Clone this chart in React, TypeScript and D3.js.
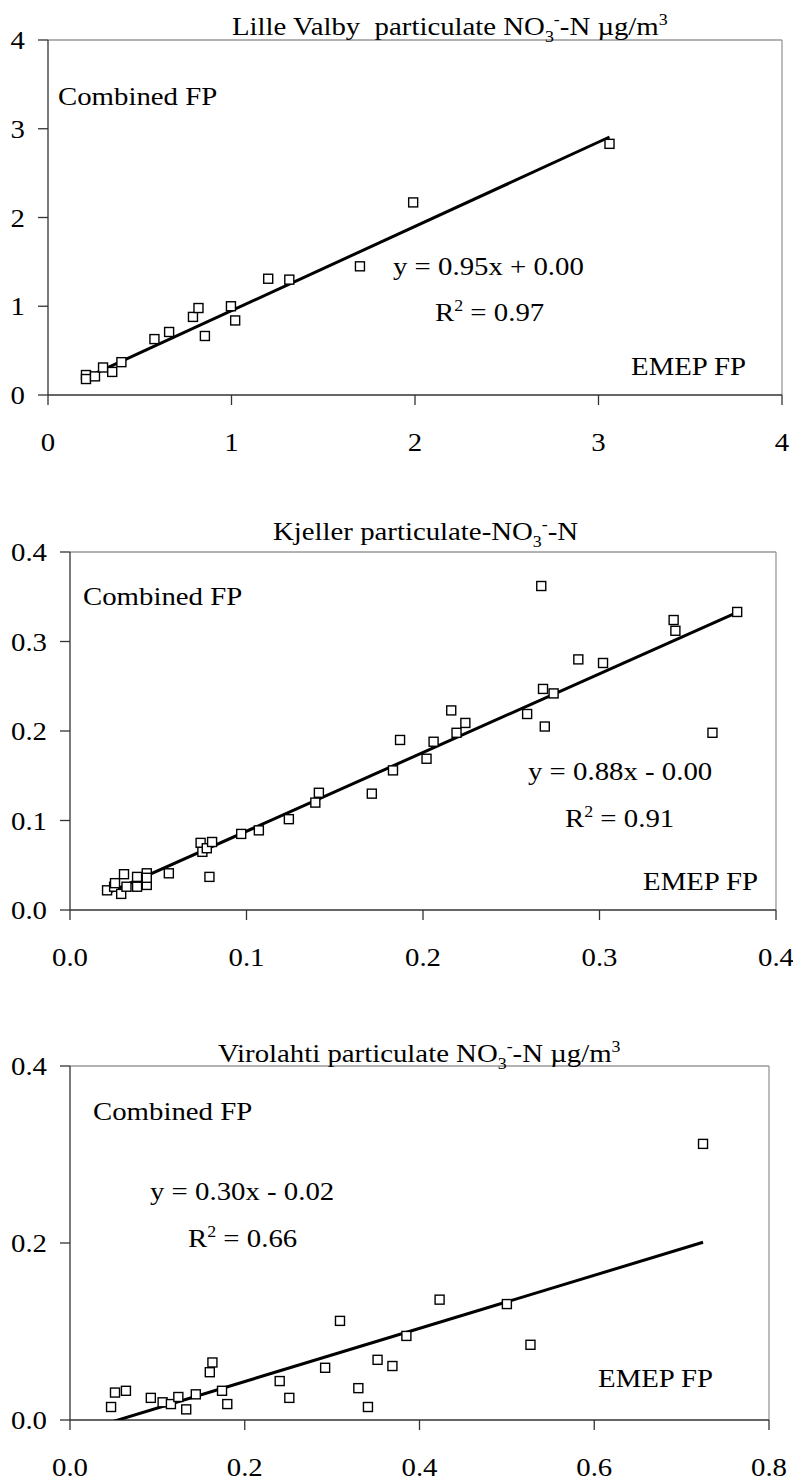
import React from "react";
import * as d3 from "d3";

// Lille Valby: EMEP FP (x) vs Combined FP (y)
const lilleX = [0.207, 0.207, 0.256, 0.3, 0.35, 0.4, 0.58, 0.66, 0.79, 0.82, 0.855, 0.997, 1.02, 1.2, 1.315, 1.7, 1.99, 3.06];
const lilleY = [0.225, 0.18, 0.21, 0.31, 0.26, 0.37, 0.63, 0.71, 0.88, 0.98, 0.665, 1.0, 0.84, 1.31, 1.3, 1.45, 2.17, 2.83];

// Kjeller
const kjellerX = [
  0.021, 0.025, 0.0255, 0.029, 0.0306, 0.032, 0.038, 0.038, 0.0435, 0.0435, 0.0435, 0.056,
  0.074, 0.075, 0.0775, 0.0805, 0.079, 0.097, 0.107, 0.124, 0.139, 0.141, 0.171, 0.183,
  0.187, 0.202, 0.206, 0.216, 0.219, 0.224, 0.259, 0.267, 0.268, 0.269, 0.274, 0.288,
  0.302, 0.342, 0.343, 0.364, 0.378,
];
const kjellerY = [
  0.022, 0.026, 0.03, 0.018, 0.04, 0.026, 0.037, 0.026, 0.041, 0.028, 0.036, 0.041,
  0.075, 0.065, 0.069, 0.076, 0.037, 0.085, 0.089, 0.1015, 0.12, 0.131, 0.13, 0.156,
  0.19, 0.169, 0.188, 0.223, 0.198, 0.209, 0.219, 0.362, 0.247, 0.205, 0.242, 0.28,
  0.276, 0.324, 0.312, 0.198, 0.333,
];

// Virolahti
const viroX = [
  0.047, 0.0515, 0.064, 0.0925, 0.106, 0.1155, 0.124, 0.133, 0.144, 0.16, 0.163, 0.174,
  0.18, 0.24, 0.251, 0.292, 0.309, 0.33, 0.341, 0.352, 0.369, 0.385, 0.423, 0.5, 0.527, 0.7245,
];
const viroY = [
  0.0147, 0.031, 0.033, 0.025, 0.02, 0.018, 0.026, 0.012, 0.029, 0.054, 0.065, 0.033,
  0.018, 0.044, 0.025, 0.059, 0.112, 0.036, 0.0147, 0.068, 0.061, 0.095, 0.136, 0.131, 0.085, 0.312,
];

const lilleTicks = [0, 1, 2, 3, 4];
const kjellerTicks = [0, 0.1, 0.2, 0.3, 0.4];
const viroXTicks = [0, 0.2, 0.4, 0.6, 0.8];
const viroYTicks = [0, 0.2, 0.4];

const FONT = "'Liberation Serif', 'Times New Roman', serif";
const FS = 25.5;
const STRETCH = 1.13; // the original text is a little wider than plain Times

type Part = { t: string; sub?: boolean; sup?: boolean };

const RichText = ({ x, y, parts, anchor = "start" }: { x: number; y: number; parts: Part[]; anchor?: string }) => {
  const out: React.ReactNode[] = [];
  let shift = 0;
  parts.forEach((p, i) => {
    const target = p.sub ? 7 : p.sup ? -10 : 0;
    const d = target - shift;
    shift = target;
    out.push(
      <tspan key={i} dy={d || undefined} fontSize={p.sub || p.sup ? FS * 0.62 : FS}>
        {p.t}
      </tspan>
    );
  });
  return (
    <g transform={`translate(${x},${y}) scale(${STRETCH},1)`}>
      <text
        x={0}
        y={0}
        textAnchor={anchor}
        fontFamily={FONT}
        fontSize={FS}
        fill="#000"
        style={{ whiteSpace: "pre" }}
      >
        {out}
      </text>
    </g>
  );
};

interface PanelProps {
  xs: number[];
  ys: number[];
  xRange: [number, number];
  yRange: [number, number];
  xDomain: [number, number];
  yDomain: [number, number];
  xTicks: number[];
  yTicks: number[];
  fmt: (v: number) => string;
  slope: number;
  intercept: number;
  title: Part[];
  titlePos: [number, number];
  combinedPos: [number, number];
  eq: string;
  eqPos: [number, number];
  r2: string;
  r2Pos: [number, number];
  emepPos: [number, number];
  id: string;
}

const Panel = (p: PanelProps) => {
  const x = d3.scaleLinear().domain(p.xDomain).range(p.xRange);
  const y = d3.scaleLinear().domain(p.yDomain).range(p.yRange);
  const [x0, x1] = p.xRange;
  const [yb, yt] = p.yRange;
  const xmin = d3.min(p.xs) as number;
  const xmax = d3.max(p.xs) as number;
  const trend = d3.line<number>()
    .x((d) => x(d))
    .y((d) => y(p.slope * d + p.intercept))([xmin, xmax]);

  return (
    <g>
      <defs>
        <clipPath id={p.id}>
          <rect x={x0} y={yt} width={x1 - x0} height={yb - yt} />
        </clipPath>
      </defs>
      {/* plot frame */}
      <line x1={x0} x2={x1} y1={yt} y2={yt} stroke="#999" strokeWidth={1.3} />
      <line x1={x1} x2={x1} y1={yt} y2={yb} stroke="#999" strokeWidth={1.3} />
      <line x1={x0} x2={x0} y1={yt} y2={yb} stroke="#333" strokeWidth={1.3} />
      <line x1={x0} x2={x1} y1={yb} y2={yb} stroke="#333" strokeWidth={1.3} />
      {p.yTicks.map((t) => (
        <g key={"y" + t}>
          <line x1={x0 - 10} x2={x0} y1={y(t)} y2={y(t)} stroke="#333" strokeWidth={1.3} />
          <RichText x={x0 - 23} y={y(t) + FS * 0.36} anchor="end" parts={[{ t: p.fmt(t) }]} />
        </g>
      ))}
      {p.xTicks.map((t) => (
        <g key={"x" + t}>
          <line x1={x(t)} x2={x(t)} y1={yb} y2={yb + 10} stroke="#333" strokeWidth={1.3} />
          <RichText x={x(t)} y={yb + 56} anchor="middle" parts={[{ t: p.fmt(t) }]} />
        </g>
      ))}
      <path d={trend ?? ""} stroke="#000" strokeWidth={3} fill="none" clipPath={`url(#${p.id})`} />
      {p.xs.map((v, i) => (
        <rect
          key={i}
          x={x(v) - 4.5}
          y={y(p.ys[i]) - 4.5}
          width={9}
          height={9}
          fill="#fff"
          stroke="#000"
          strokeWidth={1.4}
        />
      ))}
      <RichText x={p.titlePos[0]} y={p.titlePos[1]} parts={p.title} />
      <RichText x={p.combinedPos[0]} y={p.combinedPos[1]} parts={[{ t: "Combined FP" }]} />
      <RichText x={p.eqPos[0]} y={p.eqPos[1]} parts={[{ t: p.eq }]} />
      <RichText x={p.r2Pos[0]} y={p.r2Pos[1]} parts={[{ t: "R" }, { t: "2", sup: true }, { t: " = " + p.r2 }]} />
      <RichText x={p.emepPos[0]} y={p.emepPos[1]} parts={[{ t: "EMEP FP" }]} anchor="end" />
    </g>
  );
};

const f0 = d3.format("d");
const f1 = d3.format(".1f");

export default function App() {
  return (
    <svg width={793} height={1481} style={{ position: "absolute", left: 0, top: 0, background: "#fff" }}>
      <rect width={793} height={1481} fill="#fff" />
      <Panel
        id="c1"
        xs={lilleX}
        ys={lilleY}
        xRange={[48, 782]}
        yRange={[395, 40]}
        xDomain={[0, 4]}
        yDomain={[0, 4]}
        xTicks={lilleTicks}
        yTicks={lilleTicks}
        fmt={f0}
        slope={0.95}
        intercept={0.0}
        title={[
          { t: "Lille Valby  particulate NO" },
          { t: "3", sub: true },
          { t: "-", sup: true },
          { t: "-N µg/m" },
          { t: "3", sup: true },
        ]}
        titlePos={[232, 35]}
        combinedPos={[58, 105]}
        eq="y = 0.95x + 0.00"
        eqPos={[393, 275]}
        r2="0.97"
        r2Pos={[435, 321]}
        emepPos={[746, 375]}
      />
      <Panel
        id="c2"
        xs={kjellerX}
        ys={kjellerY}
        xRange={[70, 776]}
        yRange={[910, 552]}
        xDomain={[0, 0.4]}
        yDomain={[0, 0.4]}
        xTicks={kjellerTicks}
        yTicks={kjellerTicks}
        fmt={f1}
        slope={0.88}
        intercept={0.0}
        title={[{ t: "Kjeller particulate-NO" }, { t: "3", sub: true }, { t: "-", sup: true }, { t: "-N" }]}
        titlePos={[273, 540]}
        combinedPos={[83, 605]}
        eq="y = 0.88x - 0.00"
        eqPos={[528, 780]}
        r2="0.91"
        r2Pos={[565, 827]}
        emepPos={[758, 890]}
      />
      <Panel
        id="c3"
        xs={viroX}
        ys={viroY}
        xRange={[70, 769]}
        yRange={[1420, 1066]}
        xDomain={[0, 0.8]}
        yDomain={[0, 0.4]}
        xTicks={viroXTicks}
        yTicks={viroYTicks}
        fmt={f1}
        slope={0.3}
        intercept={-0.0165}
        title={[
          { t: "Virolahti particulate NO" },
          { t: "3", sub: true },
          { t: "-", sup: true },
          { t: "-N µg/m" },
          { t: "3", sup: true },
        ]}
        titlePos={[218, 1062]}
        combinedPos={[93, 1120]}
        eq="y = 0.30x - 0.02"
        eqPos={[150, 1200]}
        r2="0.66"
        r2Pos={[188, 1247]}
        emepPos={[713, 1387]}
      />
    </svg>
  );
}
